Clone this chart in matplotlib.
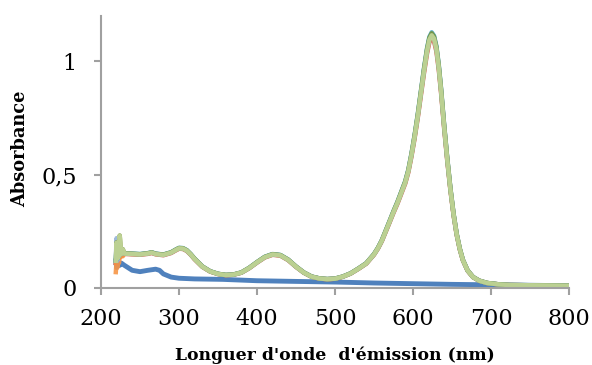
import matplotlib
matplotlib.use('Agg')
import matplotlib.pyplot as plt
import numpy as np

# longueurs d'onde (nm)
wl = [219, 220, 221, 222, 223, 224, 226, 228, 230, 240, 250, 260, 265, 270, 280,
      290, 295, 300, 305, 310, 315, 320, 330, 340, 350, 360, 370, 380, 390, 400, 410, 420,
      430, 440, 450, 460, 470, 480, 490, 500, 510, 520, 530, 540, 550, 555, 560, 565, 570,
      575, 580, 585, 590, 594, 598, 602, 606, 610, 614, 618, 621, 624, 627, 630, 633,
      636, 640, 644, 648, 652, 656, 660, 664, 670, 677, 685, 695, 710, 724, 750, 800]

# spectre commun des échantillons
spectre = [0.12, 0.20, 0.13, 0.17, 0.14, 0.23, 0.15, 0.17, 0.152, 0.15, 0.148, 0.152, 0.156, 0.15, 0.146,
           0.156, 0.166, 0.175, 0.174, 0.165, 0.148, 0.128, 0.094, 0.073, 0.062, 0.057, 0.059, 0.068, 0.088, 0.113, 0.136, 0.148,
           0.144, 0.124, 0.094, 0.068, 0.05, 0.042, 0.039, 0.041, 0.05, 0.064, 0.085, 0.108, 0.148, 0.175, 0.208, 0.25, 0.292,
           0.335, 0.375, 0.42, 0.465, 0.515, 0.585, 0.665, 0.755, 0.855, 0.955, 1.045, 1.095, 1.115, 1.10, 1.055, 0.975,
           0.87, 0.71, 0.565, 0.435, 0.325, 0.237, 0.172, 0.123, 0.077, 0.048, 0.032, 0.022, 0.016, 0.013, 0.012, 0.010]

# début bruité propre à chaque échantillon (8 premiers points)
debut_rouge = [0.11, 0.13, 0.12, 0.14, 0.13, 0.14, 0.14, 0.145]
debut_orange = [0.07, 0.12, 0.09, 0.15, 0.11, 0.14, 0.14, 0.14]
debut_bleuclair = [0.13, 0.22, 0.12, 0.19, 0.14, 0.16, 0.15, 0.16]
debut_turquoise = [0.12, 0.18, 0.13, 0.16, 0.14, 0.17, 0.15, 0.16]

# facteur de hauteur par échantillon
facteurs = [0.99, 1.0, 1.005, 1.012, 1.008, 1.0]

# blanc (solvant)
wl_blanc = [219, 220, 222, 224, 226, 230, 240, 250, 260, 270, 275, 280, 290, 300,
            320, 356, 400, 450, 503, 550, 600, 650, 700, 750, 800]
blanc = [0.12, 0.09, 0.11, 0.10, 0.11, 0.10, 0.078, 0.072, 0.078, 0.083, 0.078, 0.062, 0.048, 0.043,
         0.04, 0.038, 0.032, 0.029, 0.026, 0.022, 0.019, 0.016, 0.014, 0.012, 0.010]

fig = plt.figure(figsize=(5.92, 3.65), dpi=100)
ax = fig.add_axes([0.1706, 0.211, 0.7905, 0.745])

couleurs = ['#c0504d', '#f79646', '#95b3d7', '#4bacc6', '#77933c', '#c4d79b']
debuts = [debut_rouge, debut_orange, debut_bleuclair, debut_turquoise, None, None]

ax.plot(wl_blanc, blanc, color='#4f81bd', lw=3.5)
for c, d, f in zip(couleurs, debuts, facteurs):
    y = np.array(spectre) * f
    if d is not None:
        y[:len(d)] = d
    ax.plot(wl, y, color=c, lw=3.2, alpha=0.9)

ax.set_xlim(200, 800)
ax.set_ylim(0, 1.2)
ax.set_xticks([200, 300, 400, 500, 600, 700, 800])
ax.set_yticks([0, 0.5, 1])
ax.set_yticklabels(['0', '0,5', '1'])

for s in ['top', 'right']:
    ax.spines[s].set_visible(False)
for s in ['left', 'bottom']:
    ax.spines[s].set_color('#a0a0a0')
    ax.spines[s].set_linewidth(1.5)
ax.tick_params(direction='out', length=5, width=1.5, color='#a0a0a0')
ax.tick_params(axis='x', pad=9.5)
ax.tick_params(axis='y', pad=12.5)
for lab in ax.get_xticklabels() + ax.get_yticklabels():
    lab.set_fontfamily('DejaVu Serif')
    lab.set_fontsize(16)

fig.text(0.5659, 0.0137, "Longuer d'onde  d'émission (nm)", ha='center', va='baseline',
         fontfamily='DejaVu Serif', fontweight='bold', fontsize=12.4)
fig.text(0.0346, 0.593, 'Absorbance', ha='center', va='center', rotation=90,
         fontfamily='DejaVu Serif', fontweight='bold', fontsize=12.8)

fig.savefig('out.png', dpi=100)
